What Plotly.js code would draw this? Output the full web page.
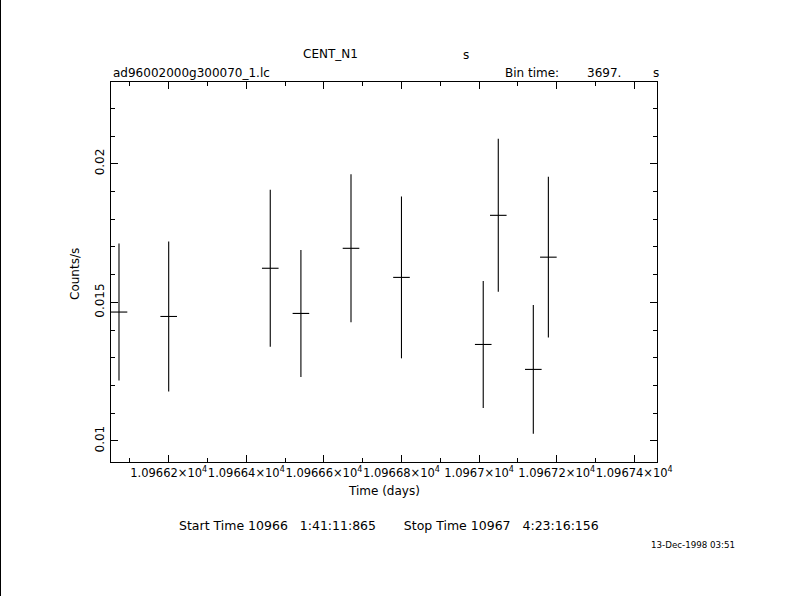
<!DOCTYPE html>
<html>
<head>
<meta charset="utf-8">
<script src="https://cdn.plot.ly/plotly-3.0.1.min.js"></script>
<style>
html,body{margin:0;padding:0;background:#fff;}
#wrap{position:relative;width:789px;height:596px;}
#plot{position:absolute;left:0;top:0;width:789px;height:596px;}
#edge{position:absolute;left:0;top:0;width:1px;height:596px;background:#000;}
</style>
</head>
<body>
<div id="wrap"><div id="plot"></div><div id="edge"></div></div>
<script>
// Light-curve bins (time in days, rate in counts/s)
var times = [10966.0719, 10966.2000, 10966.4618, 10966.5408, 10966.6699, 10966.8000, 10967.0107, 10967.0495, 10967.1398, 10967.1786];
var rates = [0.01465, 0.01449, 0.01623, 0.01460, 0.01695, 0.01590, 0.01348, 0.01814, 0.01258, 0.01663];
var rateErr = [0.00247, 0.00271, 0.00283, 0.00229, 0.00267, 0.00292, 0.00229, 0.00276, 0.00232, 0.00290];
var halfBin = [0.0214, 0.0214, 0.0214, 0.0214, 0.0214, 0.0214, 0.0214, 0.0214, 0.0214, 0.0214];

var xTickVals = [10966.2, 10966.4, 10966.6, 10966.8, 10967.0, 10967.2, 10967.4];
var xTickText = ['1.09662×10<sup>4</sup>', '1.09664×10<sup>4</sup>', '1.09666×10<sup>4</sup>', '1.09668×10<sup>4</sup>', '1.0967×10<sup>4</sup>', '1.09672×10<sup>4</sup>', '1.09674×10<sup>4</sup>'];
var yTickVals = [0.01, 0.015, 0.02];
var yTickText = ['0.01', '0.015', '0.02'];

var FONT = 'DejaVu Sans, Liberation Sans, sans-serif';
var W = 789, H = 596, L = 111, R = 132, T = 82, B = 134;
var pw = W - L - R, ph = H - T - B;
function px(x){ return (x - L) / pw; }
function py(y){ return (H - B - y) / ph; }

function ann(text, x, y, xanchor, size, angle){
  return {text: text, xref: 'paper', yref: 'paper', x: px(x), y: py(y),
    xanchor: xanchor, yanchor: 'middle', showarrow: false, textangle: angle || 0,
    font: {family: FONT, size: size || 12, color: '#000'}};
}

var trace = {
  x: times, y: rates, type: 'scatter', mode: 'markers',
  marker: {size: 1, color: 'rgba(0,0,0,0)'},
  error_y: {type: 'data', array: rateErr, visible: true, width: 0, thickness: 1.1, color: '#000'},
  error_x: {type: 'data', array: halfBin, visible: true, width: 0, thickness: 1.1, color: '#000'},
  hoverinfo: 'skip'
};

var layout = {
  width: W, height: H,
  margin: {l: L, r: R, t: T, b: B, pad: 0},
  paper_bgcolor: '#fff', plot_bgcolor: '#fff',
  showlegend: false,
  font: {family: FONT, size: 12, color: '#000'},
  xaxis: {
    range: [10966.0513, 10967.4586],
    tickmode: 'array', tickvals: xTickVals, ticktext: xTickText,
    ticks: 'inside', ticklen: 7, tickwidth: 1, tickcolor: '#000',
    minor: {tickmode: 'linear', tick0: 10966.1, dtick: 0.1, ticks: 'inside', ticklen: 4, tickwidth: 1, tickcolor: '#000'},
    showline: true, linecolor: '#000', linewidth: 1, mirror: 'ticks',
    showgrid: false, zeroline: false, tickangle: 0,
    tickfont: {family: FONT, size: 11.5, color: '#000'},
    ticklabelstandoff: 0
  },
  yaxis: {
    range: [0.009239, 0.022951],
    tickmode: 'array', tickvals: yTickVals, ticktext: yTickText,
    ticks: 'inside', ticklen: 7, tickwidth: 1, tickcolor: '#000',
    minor: {tickmode: 'linear', tick0: 0, dtick: 0.001, ticks: 'inside', ticklen: 4, tickwidth: 1, tickcolor: '#000'},
    showline: true, linecolor: '#000', linewidth: 1, mirror: 'ticks',
    showgrid: false, zeroline: false, tickangle: -90,
    tickfont: {family: FONT, size: 12, color: '#000'},
    ticklabelstandoff: 1
  },
  annotations: [
    ann('CENT_N1', 301, 54, 'left'),
    ann('s', 461, 55, 'left'),
    ann('ad96002000g300070_1.lc', 111, 73, 'left'),
    ann('Bin time:', 503, 73, 'left'),
    ann('3697.', 585, 73, 'left'),
    ann('s', 651, 73, 'left'),
    ann('Time (days)', 384, 491, 'center'),
    ann('Counts/s', 75, 274, 'center', 12, -90),
    ann('Start Time 10966&nbsp;&nbsp;&nbsp;1:41:11:865&nbsp;&nbsp;&nbsp;&nbsp;&nbsp;&nbsp;&nbsp;Stop Time 10967&nbsp;&nbsp;&nbsp;4:23:16:156', 177, 525, 'left', 12.5),
    ann('13-Dec-1998 03:51', 649, 545, 'left', 8.7)
  ]
};

Plotly.newPlot('plot', [trace], layout, {displayModeBar: false, staticPlot: true});
</script>
</body>
</html>
